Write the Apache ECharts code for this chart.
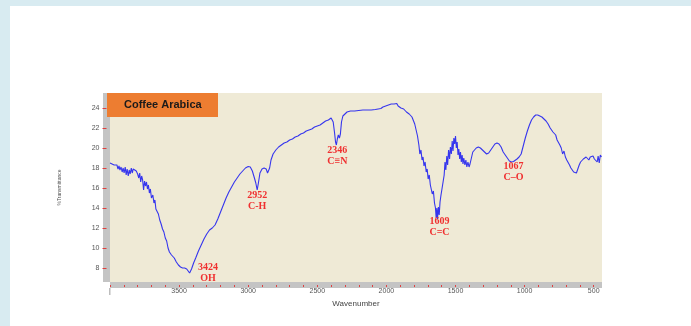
<!DOCTYPE html>
<html>
<head>
<meta charset="utf-8">
<script src="https://cdn.jsdelivr.net/npm/echarts@6/dist/echarts.min.js"></script>
<style>
html,body{margin:0;padding:0;width:691px;height:326px;overflow:hidden;background:#d8ebf1;}
#card{position:absolute;left:10px;top:6px;right:0;bottom:0;background:#ffffff;}
#chart{position:absolute;left:0;top:0;width:691px;height:326px;}
</style>
</head>
<body>
<div id="card"></div>
<div id="chart"></div>
<script>
// ---- data ----
const wavenumber = [
4000,3985,3970,3960,3950,3942,3935,3928,3920,3912,3905,3898,3890,3883,3876,3868,3861,3854,3846,3839,3832,3825,3818,3810,3800,3792,3785,3778,3771,3764,3757,3750,3743,3736,3729,3722,3715,3708,3700,3690,3682,3675,3668,3660,3650,3640,3630,3620,3610,3600,3590,3580,3570,3562,3555,3545,3535,3520,3505,3490,3475,3460,3445,3435,3424,3410,3395,3380,3360,3340,3320,3300,3280,3260,3240,3220,3200,3180,3160,3140,3120,3100,3080,3060,3040,3020,3000,2985,2970,2955,2945,2935,2925,2915,2900,2885,2870,2860,2852,2845,2835,2820,2800,2780,2760,2740,2720,2700,2680,2660,2640,2620,2600,2580,2560,2540,2520,2500,2480,2460,2440,2420,2400,2392,2385,2375,2368,2362,2355,2348,2340,2333,2325,2315,2300,2285,2260,2230,2200,2170,2140,2110,2080,2060,2040,2025,2015,2005,1995,1985,1975,1965,1955,1945,1935,1925,1915,1905,1895,1885,1875,1865,1855,1845,1835,1825,1815,1805,1795,1785,1775,1765,1758,1750,1742,1735,1728,1720,1712,1705,1698,1690,1682,1675,1668,1660,1652,1645,1640,1635,1630,1624,1618,1612,1605,1598,1590,1582,1576,1570,1563,1557,1550,1543,1537,1530,1524,1518,1512,1506,1500,1494,1488,1482,1476,1470,1464,1458,1452,1446,1440,1432,1425,1418,1410,1402,1395,1385,1375,1365,1350,1335,1320,1305,1290,1275,1260,1245,1230,1215,1200,1185,1170,1155,1140,1125,1110,1095,1080,1067,1055,1040,1025,1010,995,980,965,950,935,920,905,890,875,860,845,830,815,805,795,785,775,765,755,745,735,725,715,705,695,685,675,665,655,645,635,625,615,605,595,585,575,565,555,545,535,525,515,505,495,485,475,468,460,452,444
];
const transmittance = [
18.5,18.4,18.3,18.2,18.3,17.9,18.2,17.8,18.1,17.6,18.0,17.5,18.1,17.3,17.9,17.2,17.8,17.4,18.0,17.5,17.9,17.8,18.0,17.7,17.4,17.0,17.5,16.6,17.2,16.8,15.8,16.7,16.2,16.6,15.9,16.3,15.5,15.9,15.0,15.3,14.5,14.8,13.9,14.1,13.4,12.8,12.4,11.9,11.6,11.0,10.7,10.0,9.6,9.8,9.3,9.2,9.0,8.6,8.3,8.1,8.0,8.0,7.9,7.7,7.5,7.9,8.5,9.0,9.7,10.3,10.9,11.4,11.8,12.0,12.3,12.9,13.6,14.3,15.0,15.6,16.1,16.6,17.0,17.4,17.7,18.0,18.15,18.1,17.7,17.0,16.5,15.8,16.6,17.5,17.9,18.0,17.9,17.5,17.3,18.0,18.8,19.4,19.8,20.1,20.3,20.5,20.6,20.8,20.9,21.1,21.2,21.4,21.5,21.7,21.8,21.9,22.1,22.2,22.3,22.5,22.7,22.8,23.0,23.05,22.6,21.5,20.6,20.3,20.9,21.3,21.0,21.4,22.6,23.2,23.4,23.6,23.7,23.7,23.75,23.8,23.8,23.8,23.85,23.9,23.95,24.1,23.9,24.2,24.1,24.3,24.1,24.4,24.2,24.4,24.3,24.45,24.2,24.35,24.0,24.2,23.9,24.0,23.6,23.8,23.4,23.5,23.1,22.9,22.4,21.8,21.2,20.3,19.4,19.8,18.8,19.1,18.2,18.6,17.6,17.9,16.9,17.3,16.3,16.5,15.4,15.7,14.5,14.0,13.0,14.0,12.9,14.1,13.3,14.6,15.3,15.9,16.6,17.3,18.6,17.8,19.2,18.3,19.8,18.9,20.1,19.4,20.7,19.7,21.0,20.4,21.2,20.0,20.6,19.3,19.9,18.9,19.6,18.6,19.3,18.4,19.0,18.3,18.8,18.1,18.6,18.1,18.4,19.0,19.6,19.8,20.0,20.1,20.0,19.8,19.6,19.4,19.5,19.8,20.1,20.4,20.5,20.4,20.1,19.6,19.3,19.0,18.7,18.6,18.65,18.7,18.9,19.1,19.4,20.2,21.0,21.7,22.3,22.8,23.1,23.3,23.3,23.2,23.1,22.9,22.7,22.4,22.0,21.8,21.6,21.5,21.3,20.8,20.6,20.3,20.0,19.4,19.7,19.1,18.8,18.9,18.3,18.0,17.8,17.6,17.8,17.5,17.9,18.3,18.6,18.8,18.9,19.0,19.1,19.0,18.8,19.1,18.9,19.2,18.9,19.1,18.6,19.2,18.5,19.3,19.1
];
const xTickLabels = [4000,3500,3000,2500,2000,1500,1000,500];
const yTickLabels = [8,10,12,14,16,18,20,22,24];
const peakLabels = ['3424\nOH','2952\nC-H','2346\nC\u2261N','1609\nC=C','1067\nC\u2013O'];
const peakLabelX = [3290,2935,2355,1616,1080];
const peakLabelY = [7.55,14.7,19.25,12.1,17.6];
const chartTitle = 'Coffee Arabica';

// ---- chart ----
const minorTicks = [];
for (let v = 4000; v >= 500; v -= 100) minorTicks.push(v);

const chart = echarts.init(document.getElementById('chart'), null, {renderer:'canvas'});
const axisFont = {color:'#555', fontSize:7, fontFamily:'Liberation Sans'};
chart.setOption({
  animation:false,
  backgroundColor:'transparent',
  grid:{left:110, right:89, top:93, bottom:44, show:true, backgroundColor:'#EFEAD6', borderWidth:0},
  xAxis:{
    type:'value', inverse:true, min:440, max:4000,
    offset:3,
    name:'Wavenumber', nameLocation:'middle', nameGap:7,
    nameTextStyle:{color:'#444', fontSize:8, fontFamily:'Liberation Sans'},
    axisLine:{show:true, lineStyle:{color:'#c4c4c4', width:6, cap:'butt'}},
    axisTick:{show:true, customValues:minorTicks, length:2, lineStyle:{color:'#e04040', width:1}},
    axisLabel:{customValues:xTickLabels, margin:3, ...axisFont,
      formatter:v => v === 4000 ? '|' : String(v)},
    splitLine:{show:false}
  },
  yAxis:{
    type:'value', min:6.6, max:25.5,
    offset:3.5,
    name:'%Transmittance', nameLocation:'middle', nameGap:44, nameRotate:90,
    nameTextStyle:{color:'#555', fontSize:5, fontFamily:'Liberation Sans'},
    axisLine:{show:true, lineStyle:{color:'#c4c4c4', width:7, cap:'butt'}},
    axisTick:{show:true, customValues:yTickLabels, length:4, lineStyle:{color:'#e04040', width:1}},
    axisLabel:{customValues:yTickLabels, margin:7, ...axisFont},
    splitLine:{show:false}
  },
  series:[{
    type:'line',
    data:wavenumber.map((w,i)=>[w, transmittance[i]]),
    symbol:'none',
    lineStyle:{color:'#3535ee', width:1.1},
    markPoint:{
      symbol:'circle', symbolSize:0,
      label:{show:true, position:'inside', color:'#f03030', fontFamily:'Liberation Serif',
             fontWeight:'bold', fontSize:10, lineHeight:11, formatter:p => p.name},
      data:peakLabels.map((t,i)=>({name:t, coord:[peakLabelX[i], peakLabelY[i]]}))
    }
  }],
  graphic:[
    {type:'rect', shape:{x:107, y:93, width:111, height:24}, style:{fill:'#ED7D31'}, z:100},
    {type:'text', x:124, y:105, z:101,
     style:{text:chartTitle, fill:'#1a1a1a', font:'bold 11px "Liberation Sans"', verticalAlign:'middle'}}
  ]
});
</script>
</body>
</html>
